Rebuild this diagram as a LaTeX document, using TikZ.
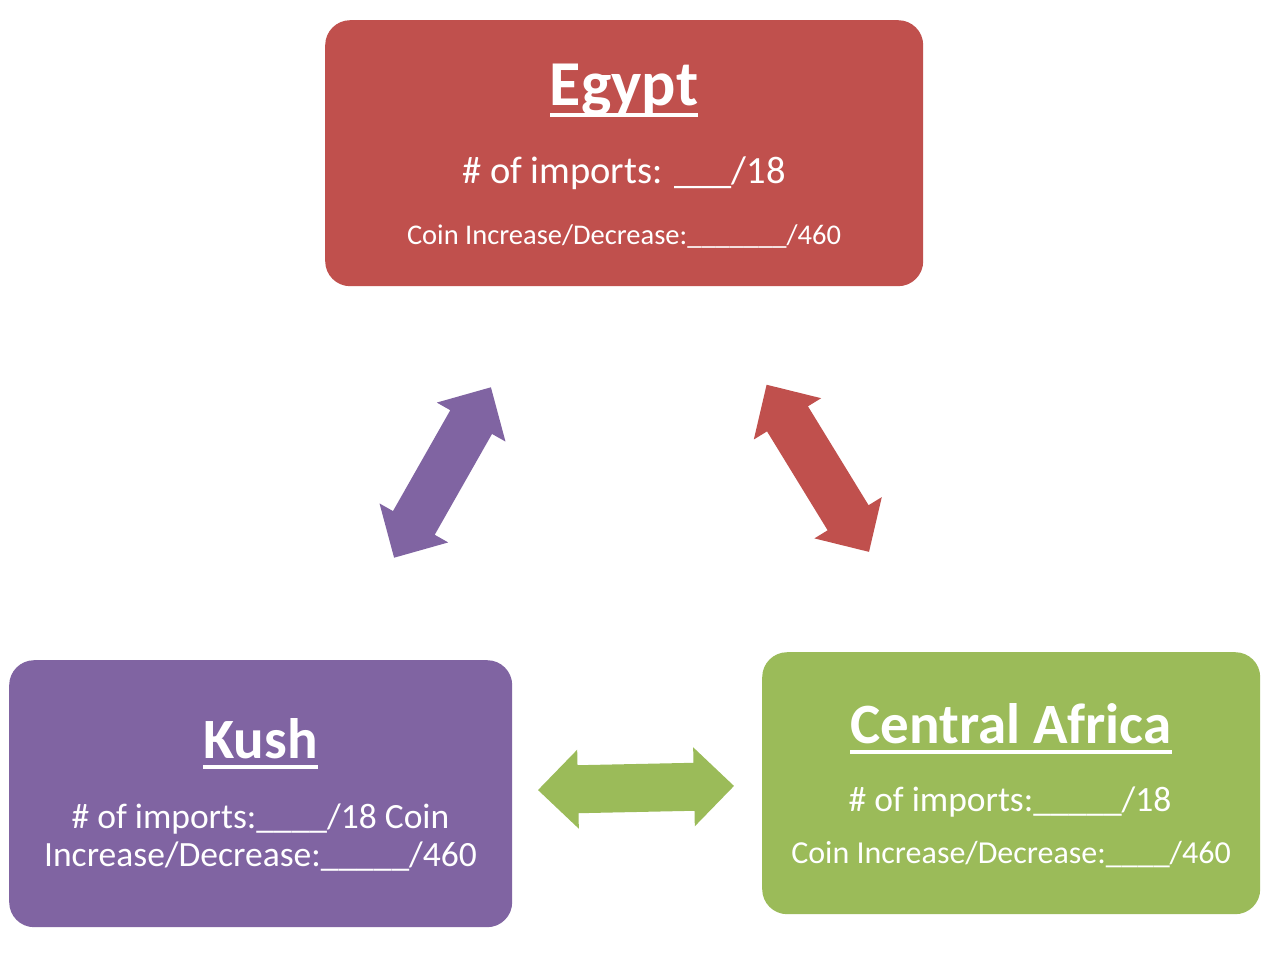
\documentclass[tikz,border=0pt]{standalone}
\usepackage{fontspec}
\setmainfont{Carlito}
\definecolor{egred}{HTML}{C0504D}
\definecolor{kpurple}{HTML}{8064A2}
\definecolor{cagreen}{HTML}{9BBB59}
\tikzset{
  box/.style={draw=none, fill=#1, rounded corners=25pt, inner sep=0pt, anchor=north west},
  ttl/.style={text=white, anchor=base, font=\bfseries\fontsize{#1}{#1}\selectfont, inner sep=0pt},
  txt/.style={text=white, anchor=base, font=\fontsize{#1}{#1}\selectfont, inner sep=0pt},
  blockarrow/.style={fill=#1, draw=none},
}
\begin{document}
\begin{tikzpicture}[x=1pt,y=-1pt]
\path[use as bounding box, fill=white] (0,0) rectangle (1280,960);
% boxes
\node[box=egred, minimum width=598pt, minimum height=266pt] (egypt) at (325,20) {};
\node[box=kpurple, minimum width=503pt, minimum height=267pt] (kush) at (9,660) {};
\node[box=cagreen, minimum width=498pt, minimum height=262pt] (cafr) at (762,652) {};
% Egypt text
\node[ttl=64] (egT) at (624,105.5) {Egypt};
\fill[white] ([yshift=-8pt]egT.base west) rectangle ([yshift=-12pt]egT.base east);
\node[txt=38.5] (egA) at (624,184) {\# of imports: \_\_\_/18};
\node[txt=28.5] (egB) at (624,244) {Coin Increase/Decrease:\_\_\_\_\_\_\_/460};
% Kush text
\node[ttl=57] (kuT) at (260.5,758) {Kush};
\fill[white] ([yshift=-7pt]kuT.base west) rectangle ([yshift=-11pt]kuT.base east);
\node[txt=35.5] (kuA) at (260.5,828) {\# of imports:\_\_\_\_/18 Coin};
\node[txt=35.5] (kuB) at (260.5,866.5) {Increase/Decrease:\_\_\_\_\_/460};
% Central Africa text
\node[ttl=57] (caT) at (1011,743) {Central Africa};
\fill[white] ([yshift=-7pt]caT.base west) rectangle ([yshift=-11pt]caT.base east);
\node[txt=35.5] (caA) at (1010,811.5) {\# of imports:\_\_\_\_\_/18};
\node[txt=32] (caB) at (1011,863) {Coin Increase/Decrease:\_\_\_\_/460};
% block arrows
\begin{scope}[shift={(442.5,472.5)}, rotate=60.4]
  \fill[blockarrow=kpurple] (-98,0) -- (-58,39.5) -- (-58,24) -- (58,24) -- (58,39.5) -- (98,0)
    -- (58,-39.5) -- (58,-24) -- (-58,-24) -- (-58,-39.5) -- cycle;
\end{scope}
\begin{scope}[shift={(817.8,468.3)}, rotate=-58.5]
  \fill[blockarrow=egred] (-98,0) -- (-58,39.5) -- (-58,24) -- (58,24) -- (58,39.5) -- (98,0)
    -- (58,-39.5) -- (58,-24) -- (-58,-24) -- (-58,-39.5) -- cycle;
\end{scope}
\begin{scope}[shift={(636,788)}, rotate=1.2]
  \fill[blockarrow=cagreen] (-98,0) -- (-58,39.5) -- (-58,24) -- (58,24) -- (58,39.5) -- (98,0)
    -- (58,-39.5) -- (58,-24) -- (-58,-24) -- (-58,-39.5) -- cycle;
\end{scope}
\end{tikzpicture}
\end{document}
